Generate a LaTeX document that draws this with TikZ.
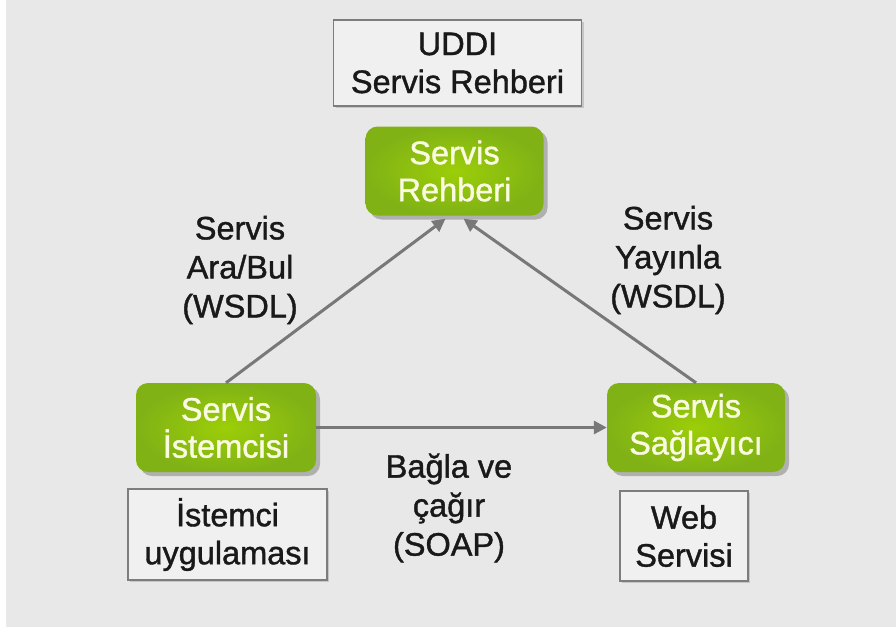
\documentclass[tikz,border=0pt]{standalone}
\usepackage{fontspec}
\setmainfont{Liberation Sans}[FakeBold=1.2]
\usetikzlibrary{arrows.meta,shadows}
\definecolor{bg}{RGB}{232,232,232}
\definecolor{greenin}{RGB}{156,206,8}
\definecolor{greenout}{RGB}{128,178,22}
\definecolor{greentext}{RGB}{250,250,225}
\definecolor{boxfill}{RGB}{240,240,240}
\definecolor{boxline}{RGB}{125,125,125}
\definecolor{arrowgray}{RGB}{120,120,120}
\definecolor{txt}{RGB}{25,25,25}
\tikzset{
  greenbox/.style={rounded corners=12pt, inner color=greenin, outer color=greenout,
    text=greentext, align=center, font=\fontsize{32.5}{37}\selectfont,
    minimum width=178pt, minimum height=89pt, inner sep=0pt,
    drop shadow={shadow xshift=4pt, shadow yshift=-4pt, fill=black!45, opacity=0.6}},
  graybox/.style={draw=boxline, line width=1.5pt, fill=boxfill, text=txt,
    align=center, font=\fontsize{32.5}{38}\selectfont, inner sep=0pt,
    drop shadow={shadow xshift=2pt, shadow yshift=-2pt, fill=black!35, opacity=0.5}},
  lbl/.style={text=txt, align=center, font=\fontsize{32.5}{39}\selectfont, inner sep=0pt},
  conn/.style={draw=arrowgray, line width=3pt, -{Triangle[length=13pt,width=13pt]}}
}
\begin{document}
\begin{tikzpicture}[x=1pt,y=-1pt]
\useasboundingbox (0,0) rectangle (896,630);
\fill[white] (0,0) rectangle (896,630);
\fill[bg] (6,0) rectangle (896,627);

\node[graybox, minimum width=248pt, minimum height=86pt] (uddi) at (457.5,63) {UDDI\\Servis Rehberi};
\node[greenbox] (reh) at (454.5,171) {Servis\\Rehberi};
\node[greenbox, minimum width=180pt] (ist) at (226,427.5) {Servis\\İstemcisi};
\node[greenbox] (sag) at (696,427.5) {Servis\\Sağlayıcı};
\node[graybox, minimum width=199pt, minimum height=91pt] (app) at (227.5,534.5) {İstemci\\uygulaması};
\node[graybox, minimum width=128pt, minimum height=90pt] (web) at (684,536) {Web\\Servisi};

\node[lbl] (l1) at (240,270) {Servis\\Ara/Bul\\(WSDL)};
\node[lbl] (l2) at (668,260) {Servis\\Yayınla\\(WSDL)};
\node[lbl] (l3) at (449,508) {Bağla ve\\çağır\\(SOAP)};

\draw[conn] (ist.north) -- ([xshift=-9pt,yshift=-3pt]reh.south);
\draw[conn] (sag.north) -- ([xshift=9pt,yshift=-3pt]reh.south);
\draw[conn] (ist.east) -- (sag.west);
\end{tikzpicture}
\end{document}
